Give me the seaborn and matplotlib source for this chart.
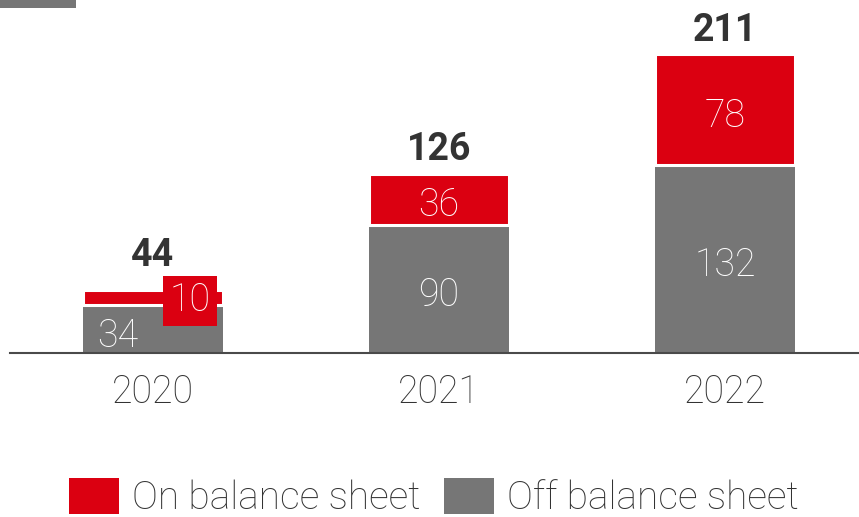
import matplotlib
matplotlib.use("Agg")
import matplotlib.pyplot as plt
import seaborn as sns
import pandas as pd
from matplotlib.patches import Rectangle, Patch

# Values per year (stacked: off balance sheet at the bottom, on balance sheet on top)
years = ["2020", "2021", "2022"]
on_balance = [10, 36, 78]
off_balance = [34, 90, 132]
totals = [44, 126, 211]  # reported totals (rounded separately)
series_names = ["On balance sheet", "Off balance sheet"]

RED = "#DB0011"
GREY = "#767676"
TEXT = "#333333"
FS = 27

sns.set_theme(style="white")
plt.rcParams["font.family"] = ["Roboto", "DejaVu Sans"]

df = pd.DataFrame({"year": years, "on": on_balance, "off": off_balance})

fig = plt.figure(figsize=(8.59, 5.17), dpi=100)
ax = fig.add_axes([10 / 859, 164 / 517, 849 / 859, 353 / 517])

sns.barplot(data=df, x="year", y="off", color=GREY, saturation=1, width=0.49,
            errorbar=None, ax=ax, linewidth=0)
sns.barplot(data=df, x="year", y="on", bottom=df["off"].to_numpy(), color=RED,
            saturation=1, width=0.49, errorbar=None, ax=ax,
            edgecolor="white", linewidth=2.2)

grey_bars, red_bars = ax.containers[0], ax.containers[1]

# Segment labels (white, inside the bars); the first year is too short,
# so its labels are pushed sideways and the on-balance one gets a red box.
label_kw = dict(color="white", fontsize=FS, fontweight="light",
                ha="center", va="center", textcoords="offset points", zorder=5)
for i, (on, off) in enumerate(zip(on_balance, off_balance)):
    xc = grey_bars[i].get_x() + grey_bars[i].get_width() / 2
    if i == 0:
        ax.annotate(str(off), (xc, off / 2), xytext=(-25.6, -5.7), **label_kw)
        ax.annotate(str(on), (xc, off + on / 2), xytext=(26.6, -2.3),
                    bbox=dict(boxstyle="square,pad=0.17", fc=RED, ec="none"),
                    **label_kw)
    else:
        ax.annotate(str(off), (xc, off / 2), xytext=(0, -4.6), **label_kw)
        ax.annotate(str(on), (xc, off + on / 2), xytext=(0, -4.6), **label_kw)

# Totals above each stack (the first one sits higher to clear the boxed label)
total_pad = [11.5, 4, 4]
for bar, total, pad in zip(red_bars, totals, total_pad):
    ax.annotate(str(total), (bar.get_x() + bar.get_width() / 2, bar.get_y() + bar.get_height()),
                xytext=(0, pad), textcoords="offset points", ha="center", va="bottom",
                color=TEXT, fontsize=FS, fontweight="bold")

ax.set_xlim(-0.5, 2.4685)
ax.set_ylim(0, 248.1)
ax.set_xlabel("")
ax.set_ylabel("")
ax.set_yticks([])
ax.tick_params(axis="x", length=0, pad=15, labelsize=FS, labelcolor=TEXT)
for lbl in ax.get_xticklabels():
    lbl.set_fontweight("light")
for side in ["top", "left", "right"]:
    ax.spines[side].set_visible(False)
ax.spines["bottom"].set_color("#4a4a4a")
ax.spines["bottom"].set_linewidth(1.5)

# Legend
handles = [Patch(facecolor=RED, edgecolor="none"), Patch(facecolor=GREY, edgecolor="none")]
leg = fig.legend(handles, series_names, loc="center", bbox_to_anchor=(0.505, 0.037),
                 ncol=2, frameon=False, prop=dict(size=28, weight="light"),
                 handlelength=1.29, handleheight=1.04, handletextpad=0.33,
                 columnspacing=0.62, borderpad=0, borderaxespad=0)
for t in leg.get_texts():
    t.set_color(TEXT)

# Grey header tab in the top-left corner
fig.patches.append(Rectangle((0, 1 - 8 / 517), 76 / 859, 8 / 517,
                             transform=fig.transFigure, facecolor=GREY,
                             edgecolor="none"))

fig.savefig("out.png", dpi=100, facecolor="white")
